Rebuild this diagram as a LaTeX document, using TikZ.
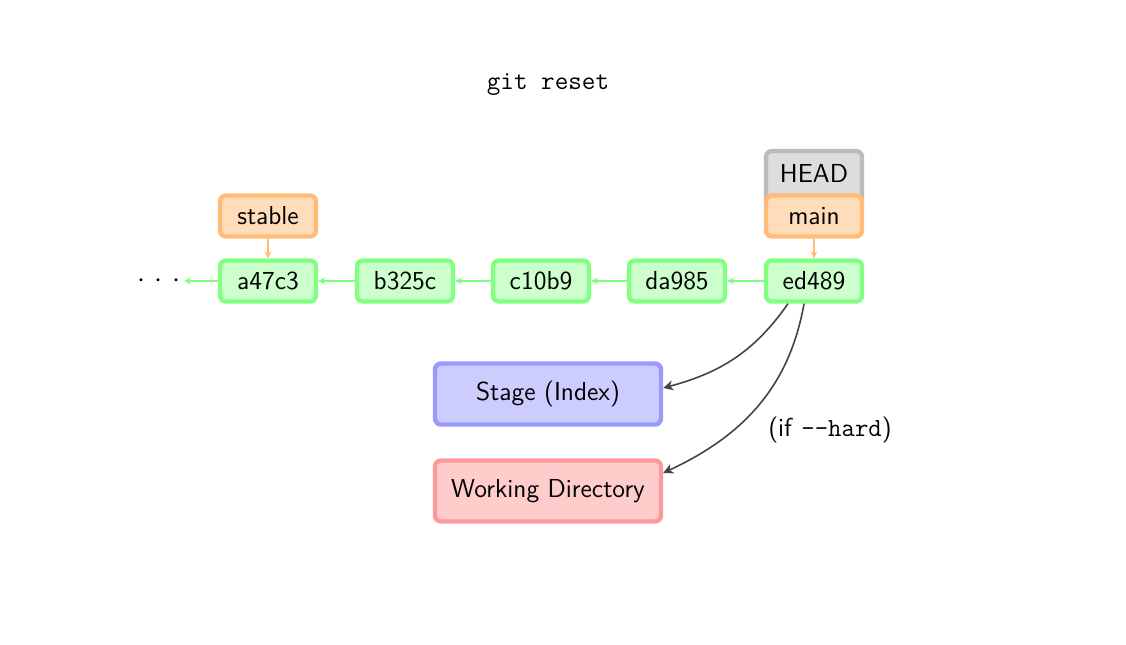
\documentclass[tikz,border=0pt]{standalone}
\usepackage{fontspec}
\usetikzlibrary{arrows.meta}
\definecolor{commitline}{HTML}{80FF80}
\definecolor{commitfill}{HTML}{CCFFCC}
\definecolor{branchline}{HTML}{FFBB77}
\definecolor{branchfill}{HTML}{FFDDBB}
\definecolor{headline}{HTML}{BBBBBB}
\definecolor{headfill}{HTML}{DDDDDD}
\definecolor{stageline}{HTML}{9999FF}
\definecolor{stagefill}{HTML}{CCCCFF}
\definecolor{workline}{HTML}{FF9999}
\definecolor{workfill}{HTML}{FFCCCC}
\definecolor{flow}{HTML}{444444}
\tikzset{
  label font/.style={font=\sffamily\fontsize{13}{15}\selectfont},
  refbox/.style={rounded corners=3pt, line width=2.2pt, minimum width=48pt,
    minimum height=20.5pt, inner sep=0pt, label font},
  commit/.style={refbox, draw=commitline, fill=commitfill},
  branch/.style={refbox, draw=branchline, fill=branchfill},
  headref/.style={refbox, draw=headline, fill=headfill},
  area/.style={rounded corners=3pt, line width=2.2pt, minimum width=113pt,
    minimum height=30.5pt, inner sep=0pt, label font},
  parent/.style={draw=commitline, line width=1pt, -{Stealth[length=3.5pt,width=3.5pt]}},
  points/.style={draw=branchline, line width=1pt, -{Stealth[length=3.5pt,width=3.5pt]}},
  moves/.style={draw=flow, line width=0.8pt, -{Stealth[length=5pt,width=5pt,inset=1.5pt]}},
}
\begin{document}
\begin{tikzpicture}[x=0.5pt, y=-0.5pt]
\useasboundingbox (0,0) rectangle (1126,644);
\node (title) at (548,85) {\ttfamily\fontsize{13.2}{15}\selectfont git reset};

% commit chain
\node[commit] (c1) at (268,281) {a47c3};
\node[commit] (c2) at (405,281) {b325c};
\node[commit] (c3) at (541,281) {c10b9};
\node[commit] (c4) at (677,281) {da985};
\node[commit] (c5) at (814,281) {ed489};
\node (more) at (159,281) {\fontsize{14}{16}\selectfont$\cdot\kern1.8pt\cdot\kern1.8pt\cdot$};
\coordinate (moreend) at (184,281);

\draw[parent] (c5) -- (c4);
\draw[parent] (c4) -- (c3);
\draw[parent] (c3) -- (c2);
\draw[parent] (c2) -- (c1);
\draw[parent] (c1) -- (moreend);

% branch refs (HEAD sits behind main)
\node[headref, minimum height=29pt, text depth=7pt] (head) at (814,180) {HEAD};
\node[branch] (stable) at (268,216) {stable};
\node[branch] (main) at (814,216) {main};
\draw[points] (stable) -- (c1);
\draw[points] (main) -- (c5);

% index and working tree
\node[area, draw=stageline, fill=stagefill] (stage) at (548,394) {Stage (Index)};
\node[area, draw=workline, fill=workfill] (work) at (548,491) {Working Directory};

\draw[moves] ([xshift=-13pt]c5.south) to[out=-125, in=15] ([yshift=3pt]stage.east);
\draw[moves] ([xshift=-5pt]c5.south) to[out=-100, in=25] ([yshift=9pt]work.east);
\node[label font] (hard) at (830,430) {(if \texttt{-{}-hard})};
\end{tikzpicture}
\end{document}
